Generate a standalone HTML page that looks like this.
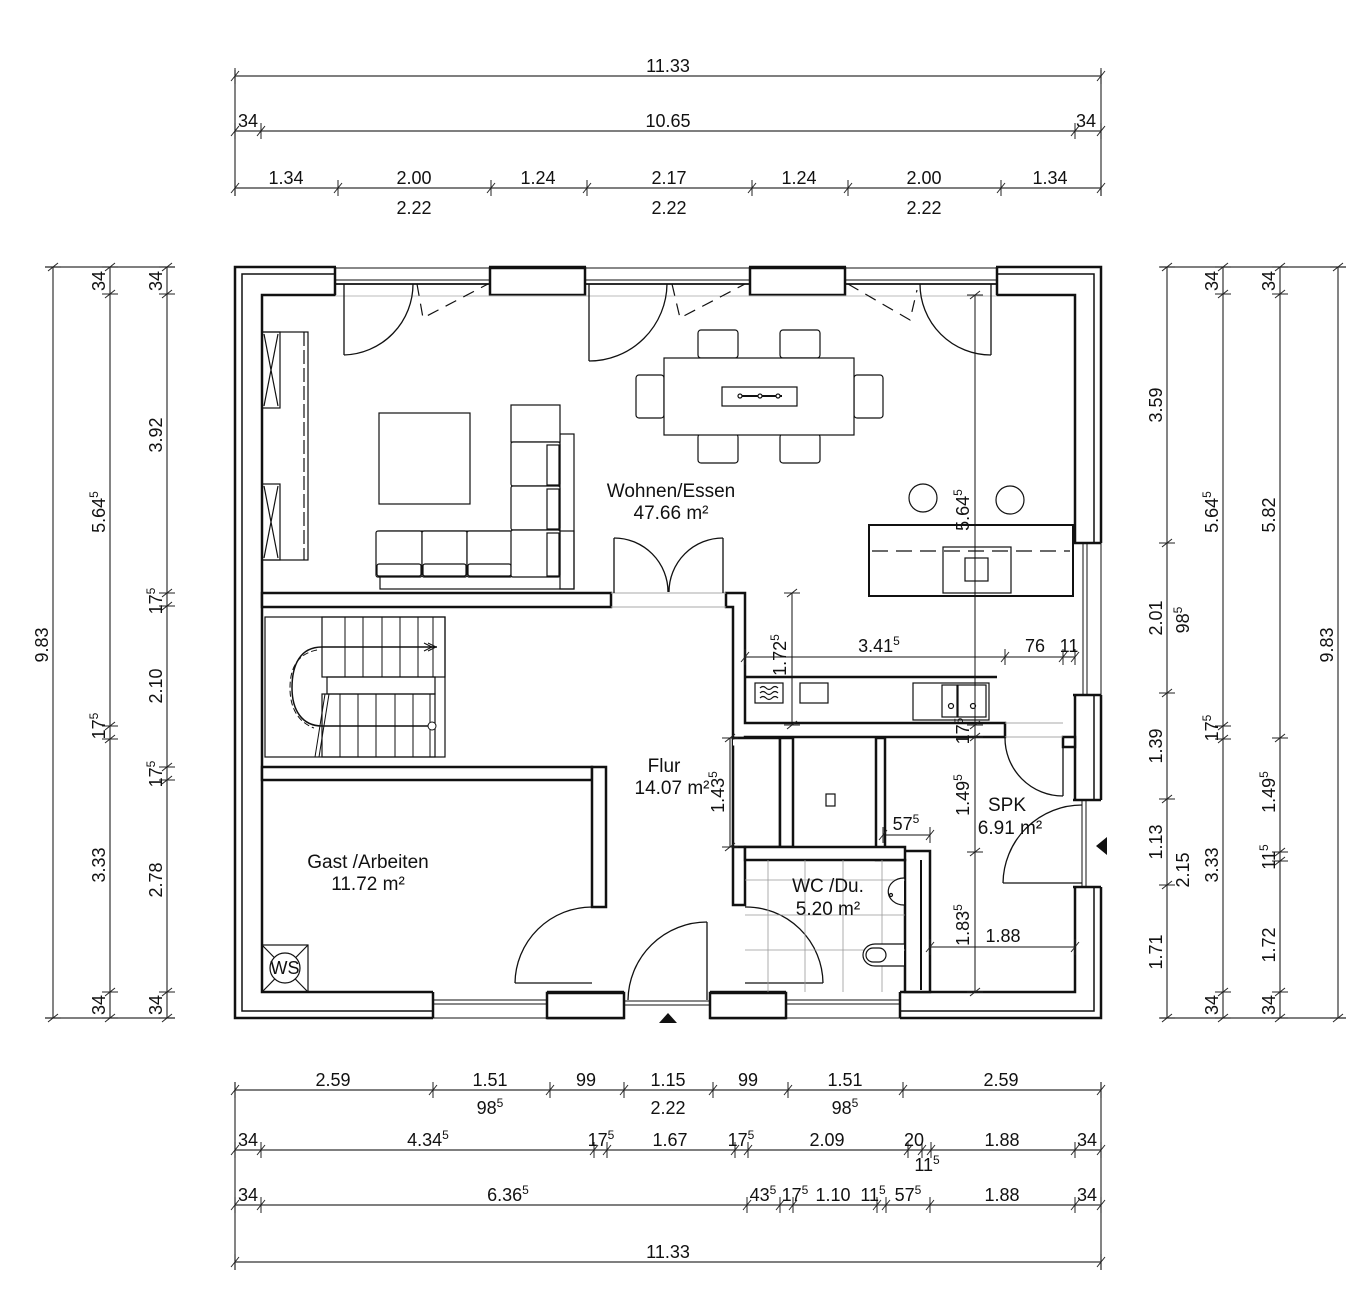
<!DOCTYPE html>
<html><head><meta charset="utf-8"><style>
html,body{margin:0;padding:0;background:#fff}
svg{display:block}
text{font-family:"Liberation Sans",sans-serif;font-size:18px;fill:#111}
.s{font-size:12px}
.r{font-size:19px}
</style></head><body>
<svg width="1356" height="1308" viewBox="0 0 1356 1308" xmlns="http://www.w3.org/2000/svg">
<defs>
<g id="th" stroke="#222" stroke-width="1"><line x1="-4" y1="5" x2="4" y2="-5"/><line x1="0" y1="-8" x2="0" y2="8"/></g>
<g id="tv" stroke="#222" stroke-width="1"><line x1="-5" y1="4" x2="5" y2="-4"/><line x1="-8" y1="0" x2="8" y2="0"/></g>
</defs>
<rect width="1356" height="1308" fill="#fff"/>

<!-- TOP DIMENSIONS -->
<g stroke="#333" stroke-width="1.2" fill="none">
<line x1="235" y1="76" x2="1101" y2="76"/>
<line x1="235" y1="131" x2="1101" y2="131"/>
<line x1="235" y1="188" x2="1101" y2="188"/>
<line x1="235" y1="70" x2="235" y2="196"/>
<line x1="1101" y1="70" x2="1101" y2="196"/>
</g>
<use href="#th" x="235" y="76"/><use href="#th" x="1101" y="76"/>
<use href="#th" x="235" y="131"/><use href="#th" x="261" y="131"/><use href="#th" x="1075" y="131"/><use href="#th" x="1101" y="131"/>
<use href="#th" x="235" y="188"/><use href="#th" x="338" y="188"/><use href="#th" x="491" y="188"/><use href="#th" x="587" y="188"/><use href="#th" x="752" y="188"/><use href="#th" x="848" y="188"/><use href="#th" x="1001" y="188"/><use href="#th" x="1101" y="188"/>
<g text-anchor="middle">
<text x="668" y="72">11.33</text>
<text x="248" y="127">34</text><text x="668" y="127">10.65</text><text x="1086" y="127">34</text>
<text x="286" y="184">1.34</text><text x="414" y="184">2.00</text><text x="538" y="184">1.24</text><text x="669" y="184">2.17</text><text x="799" y="184">1.24</text><text x="924" y="184">2.00</text><text x="1050" y="184">1.34</text>
<text x="414" y="214">2.22</text><text x="669" y="214">2.22</text><text x="924" y="214">2.22</text>
</g>

<!-- LEFT DIMENSIONS -->
<g stroke="#333" stroke-width="1.2">
<line x1="53" y1="267" x2="53" y2="1018"/><line x1="110" y1="267" x2="110" y2="1018"/><line x1="167" y1="267" x2="167" y2="1018"/>
<line x1="45" y1="267" x2="175" y2="267"/><line x1="45" y1="1018" x2="175" y2="1018"/>
</g>
<use href="#tv" x="53" y="267"/><use href="#tv" x="53" y="1018"/>
<use href="#tv" x="110" y="267"/><use href="#tv" x="110" y="294"/><use href="#tv" x="110" y="726"/><use href="#tv" x="110" y="739"/><use href="#tv" x="110" y="992"/><use href="#tv" x="110" y="1018"/>
<use href="#tv" x="167" y="267"/><use href="#tv" x="167" y="294"/><use href="#tv" x="167" y="593"/><use href="#tv" x="167" y="606"/><use href="#tv" x="167" y="767"/><use href="#tv" x="167" y="780"/><use href="#tv" x="167" y="992"/><use href="#tv" x="167" y="1018"/>
<g text-anchor="middle">
<text transform="translate(48,645) rotate(-90)">9.83</text>
<text transform="translate(105,281) rotate(-90)">34</text>
<text transform="translate(105,512) rotate(-90)">5.64<tspan class="s" dy="-7">5</tspan></text>
<text transform="translate(105,726) rotate(-90)">17<tspan class="s" dy="-7">5</tspan></text>
<text transform="translate(105,865) rotate(-90)">3.33</text>
<text transform="translate(105,1005) rotate(-90)">34</text>
<text transform="translate(162,281) rotate(-90)">34</text>
<text transform="translate(162,435) rotate(-90)">3.92</text>
<text transform="translate(162,601) rotate(-90)">17<tspan class="s" dy="-7">5</tspan></text>
<text transform="translate(162,686) rotate(-90)">2.10</text>
<text transform="translate(162,774) rotate(-90)">17<tspan class="s" dy="-7">5</tspan></text>
<text transform="translate(162,880) rotate(-90)">2.78</text>
<text transform="translate(162,1005) rotate(-90)">34</text>
</g>

<!-- RIGHT DIMENSIONS -->
<g stroke="#333" stroke-width="1.2">
<line x1="1167" y1="267" x2="1167" y2="1018"/><line x1="1223" y1="267" x2="1223" y2="1018"/><line x1="1280" y1="267" x2="1280" y2="1018"/><line x1="1338" y1="267" x2="1338" y2="1018"/>
<line x1="1160" y1="267" x2="1346" y2="267"/><line x1="1160" y1="1018" x2="1346" y2="1018"/>
</g>
<use href="#tv" x="1167" y="267"/><use href="#tv" x="1167" y="543"/><use href="#tv" x="1167" y="693"/><use href="#tv" x="1167" y="799"/><use href="#tv" x="1167" y="885"/><use href="#tv" x="1167" y="1018"/>
<use href="#tv" x="1223" y="267"/><use href="#tv" x="1223" y="294"/><use href="#tv" x="1223" y="726"/><use href="#tv" x="1223" y="739"/><use href="#tv" x="1223" y="992"/><use href="#tv" x="1223" y="1018"/>
<use href="#tv" x="1280" y="267"/><use href="#tv" x="1280" y="294"/><use href="#tv" x="1280" y="738"/><use href="#tv" x="1280" y="852"/><use href="#tv" x="1280" y="861"/><use href="#tv" x="1280" y="992"/><use href="#tv" x="1280" y="1018"/>
<use href="#tv" x="1338" y="267"/><use href="#tv" x="1338" y="1018"/>
<g text-anchor="middle">
<text transform="translate(1162,405) rotate(-90)">3.59</text>
<text transform="translate(1162,618) rotate(-90)">2.01</text>
<text transform="translate(1162,746) rotate(-90)">1.39</text>
<text transform="translate(1162,842) rotate(-90)">1.13</text>
<text transform="translate(1162,952) rotate(-90)">1.71</text>
<text transform="translate(1189,620) rotate(-90)">98<tspan class="s" dy="-7">5</tspan></text>
<text transform="translate(1189,870) rotate(-90)">2.15</text>
<text transform="translate(1218,281) rotate(-90)">34</text>
<text transform="translate(1218,512) rotate(-90)">5.64<tspan class="s" dy="-7">5</tspan></text>
<text transform="translate(1218,728) rotate(-90)">17<tspan class="s" dy="-7">5</tspan></text>
<text transform="translate(1218,865) rotate(-90)">3.33</text>
<text transform="translate(1218,1005) rotate(-90)">34</text>
<text transform="translate(1275,281) rotate(-90)">34</text>
<text transform="translate(1275,515) rotate(-90)">5.82</text>
<text transform="translate(1275,792) rotate(-90)">1.49<tspan class="s" dy="-7">5</tspan></text>
<text transform="translate(1275,857) rotate(-90)">11<tspan class="s" dy="-7">5</tspan></text>
<text transform="translate(1275,945) rotate(-90)">1.72</text>
<text transform="translate(1275,1005) rotate(-90)">34</text>
<text transform="translate(1333,645) rotate(-90)">9.83</text>
</g>

<!-- BOTTOM DIMENSIONS -->
<g stroke="#333" stroke-width="1.2">
<line x1="235" y1="1090" x2="1101" y2="1090"/><line x1="235" y1="1150" x2="1101" y2="1150"/><line x1="235" y1="1205" x2="1101" y2="1205"/><line x1="235" y1="1262" x2="1101" y2="1262"/>
<line x1="235" y1="1082" x2="235" y2="1270"/><line x1="1101" y1="1082" x2="1101" y2="1270"/>
</g>
<use href="#th" x="235" y="1090"/><use href="#th" x="433" y="1090"/><use href="#th" x="550" y="1090"/><use href="#th" x="624" y="1090"/><use href="#th" x="713" y="1090"/><use href="#th" x="788" y="1090"/><use href="#th" x="903" y="1090"/><use href="#th" x="1101" y="1090"/>
<use href="#th" x="235" y="1150"/><use href="#th" x="261" y="1150"/><use href="#th" x="594" y="1150"/><use href="#th" x="607" y="1150"/><use href="#th" x="735" y="1150"/><use href="#th" x="748" y="1150"/><use href="#th" x="908" y="1150"/><use href="#th" x="922" y="1150"/><use href="#th" x="931" y="1150"/><use href="#th" x="1075" y="1150"/><use href="#th" x="1101" y="1150"/>
<use href="#th" x="235" y="1205"/><use href="#th" x="261" y="1205"/><use href="#th" x="747" y="1205"/><use href="#th" x="780" y="1205"/><use href="#th" x="793" y="1205"/><use href="#th" x="877" y="1205"/><use href="#th" x="886" y="1205"/><use href="#th" x="930" y="1205"/><use href="#th" x="1075" y="1205"/><use href="#th" x="1101" y="1205"/>
<use href="#th" x="235" y="1262"/><use href="#th" x="1101" y="1262"/>
<g text-anchor="middle">
<text x="333" y="1086">2.59</text><text x="490" y="1086">1.51</text><text x="586" y="1086">99</text><text x="668" y="1086">1.15</text><text x="748" y="1086">99</text><text x="845" y="1086">1.51</text><text x="1001" y="1086">2.59</text>
<text x="490" y="1114">98<tspan class="s" dy="-7">5</tspan></text><text x="668" y="1114">2.22</text><text x="845" y="1114">98<tspan class="s" dy="-7">5</tspan></text>
<text x="248" y="1146">34</text><text x="428" y="1146">4.34<tspan class="s" dy="-7">5</tspan></text><text x="601" y="1146">17<tspan class="s" dy="-7">5</tspan></text><text x="670" y="1146">1.67</text><text x="741" y="1146">17<tspan class="s" dy="-7">5</tspan></text><text x="827" y="1146">2.09</text><text x="914" y="1146">20</text><text x="1002" y="1146">1.88</text><text x="1087" y="1146">34</text>
<text x="927" y="1171">11<tspan class="s" dy="-7">5</tspan></text>
<text x="248" y="1201">34</text><text x="508" y="1201">6.36<tspan class="s" dy="-7">5</tspan></text><text x="763" y="1201">43<tspan class="s" dy="-7">5</tspan></text><text x="795" y="1201">17<tspan class="s" dy="-7">5</tspan></text><text x="833" y="1201">1.10</text><text x="873" y="1201">11<tspan class="s" dy="-7">5</tspan></text><text x="908" y="1201">57<tspan class="s" dy="-7">5</tspan></text><text x="1002" y="1201">1.88</text><text x="1087" y="1201">34</text>
<text x="668" y="1258">11.33</text>
</g>

<!-- EXTERIOR WALLS -->
<g fill="none" stroke="#111">
<rect x="235" y="267" width="866" height="751" stroke-width="2.5"/>
<rect x="242" y="274" width="852" height="737" stroke-width="1.5"/>
<rect x="262" y="295" width="813" height="697" stroke-width="2.5"/>
</g>
<g>
<rect x="336" y="265" width="153" height="32" fill="#fff"/>
<rect x="586" y="265" width="163" height="32" fill="#fff"/>
<rect x="846" y="265" width="150" height="32" fill="#fff"/>
<rect x="490" y="268" width="95" height="27" fill="#fff" stroke="#111" stroke-width="2.5"/>
<rect x="750" y="268" width="95" height="27" fill="#fff" stroke="#111" stroke-width="2.5"/>
<g stroke="#111" stroke-width="1">
<line x1="335" y1="268" x2="490" y2="268"/><line x1="335" y1="280" x2="490" y2="280"/><line x1="335" y1="284" x2="490" y2="284" stroke-width="1.8"/>
<line x1="585" y1="268" x2="750" y2="268"/><line x1="585" y1="280" x2="750" y2="280"/><line x1="585" y1="284" x2="750" y2="284" stroke-width="1.8"/>
<line x1="845" y1="268" x2="997" y2="268"/><line x1="845" y1="280" x2="997" y2="280"/><line x1="845" y1="284" x2="997" y2="284" stroke-width="1.8"/>
</g>
<g stroke="#bbb" stroke-width="1"><line x1="335" y1="296" x2="997" y2="296"/></g>
<line x1="335" y1="267" x2="335" y2="295" stroke="#111" stroke-width="2.5"/>
<line x1="997" y1="267" x2="997" y2="295" stroke="#111" stroke-width="2.5"/>
</g>
<rect x="1073" y="543" width="30" height="152" fill="#fff"/>
<g stroke="#111" stroke-width="1"><line x1="1101" y1="543" x2="1101" y2="695"/><line x1="1083" y1="543" x2="1083" y2="695"/><line x1="1087" y1="543" x2="1087" y2="695"/></g>
<line x1="1073" y1="543" x2="1101" y2="543" stroke="#111" stroke-width="2.5"/>
<line x1="1073" y1="695" x2="1101" y2="695" stroke="#111" stroke-width="2.5"/>
<rect x="1073" y="800" width="30" height="87" fill="#fff"/>
<g stroke="#111" stroke-width="1"><line x1="1082" y1="800" x2="1082" y2="887"/><line x1="1086" y1="800" x2="1086" y2="887"/></g>
<line x1="1073" y1="800" x2="1101" y2="800" stroke="#111" stroke-width="2.5"/>
<line x1="1073" y1="887" x2="1101" y2="887" stroke="#111" stroke-width="2.5"/>
<rect x="433" y="990" width="114" height="30" fill="#fff"/>
<rect x="624" y="990" width="86" height="30" fill="#fff"/>
<rect x="786" y="990" width="114" height="30" fill="#fff"/>
<g stroke="#111" stroke-width="1">
<line x1="433" y1="1000" x2="547" y2="1000"/><line x1="433" y1="1004" x2="547" y2="1004"/><line x1="433" y1="1018" x2="547" y2="1018"/>
<line x1="786" y1="1000" x2="900" y2="1000"/><line x1="786" y1="1004" x2="900" y2="1004"/><line x1="786" y1="1018" x2="900" y2="1018"/>
<line x1="624" y1="1001" x2="710" y2="1001"/><line x1="624" y1="1005" x2="710" y2="1005"/>
</g>
<g fill="#fff" stroke="#111" stroke-width="2.5">
<rect x="547" y="993" width="77" height="25"/>
<rect x="710" y="993" width="76" height="25"/>
<line x1="433" y1="992" x2="433" y2="1018"/><line x1="900" y1="992" x2="900" y2="1018"/>
</g>

<!-- INTERIOR WALLS -->
<g fill="#fff" stroke="#111" stroke-width="2.5" stroke-linejoin="miter">
<rect x="262" y="593" width="349" height="14"/>
<polygon points="726,593 745,593 745,723 1005,723 1005,737 745,737 745,738 733,738 733,607 726,607"/>
<rect x="262" y="767" width="330" height="13"/>
<polygon points="592,767 606,767 606,907 592,907"/>
<rect x="733" y="738" width="47" height="109"/>
<rect x="733" y="847" width="12" height="58"/>
<rect x="780" y="738" width="13" height="109"/>
<polygon points="876,738 885,738 885,851 930,851 930,992 905,992 905,860 876,860"/>
<rect x="745" y="847" width="160" height="13"/>
<rect x="1063" y="737" width="12" height="10"/>
</g>
<g fill="#fff">
<rect x="263.5" y="594.5" width="8" height="11"/>
<rect x="263.5" y="768.5" width="8" height="10"/>
<rect x="733" y="739.5" width="11" height="6"/>
</g>
<g stroke="#aaa" stroke-width="1"><line x1="611" y1="593" x2="726" y2="593"/><line x1="611" y1="607" x2="726" y2="607"/>
<line x1="1005" y1="723" x2="1063" y2="723"/><line x1="1005" y1="737" x2="1063" y2="737"/></g>

<!-- DOORS -->
<g fill="none" stroke="#111" stroke-width="1.3">
<line x1="344" y1="284" x2="344" y2="355"/><path d="M344,355 A71,71 0 0 0 413,284"/>
<line x1="589" y1="284" x2="589" y2="361"/><path d="M589,361 A78,78 0 0 0 667,284"/>
<line x1="991" y1="284" x2="991" y2="355"/><path d="M991,355 A71,71 0 0 1 920,284"/>
<line x1="614" y1="538" x2="614" y2="593"/><path d="M614,538 A54,54 0 0 1 668,592"/>
<line x1="723" y1="538" x2="723" y2="593"/><path d="M723,538 A54,54 0 0 0 669,592"/>
<line x1="515" y1="983" x2="592" y2="983"/><path d="M515,983 A77,77 0 0 1 592,907"/>
<line x1="707" y1="922" x2="707" y2="1000"/><path d="M628,1000 A79,79 0 0 1 707,922"/>
<line x1="745" y1="983" x2="823" y2="983"/><path d="M745,907 A77,77 0 0 1 823,983"/>
<line x1="1063" y1="737" x2="1063" y2="796"/><path d="M1005,737 A58,58 0 0 0 1063,796"/>
<line x1="1003" y1="883" x2="1082" y2="883"/><path d="M1003,883 A79,79 0 0 1 1082,805"/>
</g>
<g fill="none" stroke="#111" stroke-width="1.2" stroke-dasharray="12,8">
<polyline points="417,284 423,318 488,284"/>
<polyline points="672,284 680,318 745,284"/>
<polyline points="848,284 910,320 917,290"/>
</g>
<polygon points="659,1023 677,1023 668,1013" fill="#111"/>
<polygon points="1096,846 1107,837 1107,855" fill="#111"/>

<!-- FURNITURE -->
<g fill="none" stroke="#111" stroke-width="1.2">
<rect x="262" y="332" width="46" height="228"/>
<rect x="262" y="332" width="18" height="76"/><path d="M264,334 L278,406 M278,334 L264,406"/>
<rect x="262" y="484" width="18" height="76"/><path d="M264,486 L278,558 M278,486 L264,558"/>
<line x1="304" y1="332" x2="304" y2="560" stroke-dasharray="14,4"/>
<rect x="379" y="413" width="91" height="91"/>
<rect x="380" y="531" width="194" height="58"/>
<rect x="376" y="531" width="46" height="46" rx="2" fill="#fff"/><rect x="422" y="531" width="45" height="46" rx="2" fill="#fff"/><rect x="467" y="531" width="45" height="46" rx="2" fill="#fff"/>
<rect x="377" y="564" width="44" height="12" rx="2"/><rect x="423" y="564" width="43" height="12" rx="2"/><rect x="468" y="564" width="43" height="12" rx="2"/>
<rect x="560" y="434" width="14" height="155"/>
<rect x="511" y="405" width="49" height="37" fill="#fff"/>
<rect x="511" y="442" width="49" height="44" rx="2" fill="#fff"/><rect x="511" y="486" width="49" height="44" rx="2" fill="#fff"/><rect x="511" y="530" width="49" height="47" rx="2" fill="#fff"/>
<rect x="547" y="445" width="12" height="40"/><rect x="547" y="489" width="12" height="40"/><rect x="547" y="533" width="12" height="43"/>
<rect x="698" y="330" width="40" height="28" rx="3"/><rect x="780" y="330" width="40" height="28" rx="3"/>
<rect x="698" y="434" width="40" height="29" rx="3"/><rect x="780" y="434" width="40" height="29" rx="3"/>
<rect x="636" y="375" width="28" height="43" rx="3"/><rect x="854" y="375" width="29" height="43" rx="3"/>
<rect x="664" y="358" width="190" height="77" fill="#fff"/>
<rect x="722" y="387" width="75" height="19"/>
<line x1="738" y1="396" x2="782" y2="396" stroke-width="2"/>
<circle cx="740" cy="396" r="2" fill="#fff"/><circle cx="760" cy="396" r="2" fill="#fff"/><circle cx="778" cy="396" r="2" fill="#fff"/>
<circle cx="923" cy="498" r="14"/><circle cx="1010" cy="500" r="14"/>
<rect x="869" y="525" width="204" height="71" stroke-width="2"/>
<line x1="872" y1="551" x2="1070" y2="551" stroke-dasharray="16,8"/>
<rect x="943" y="547" width="68" height="46"/><rect x="965" y="558" width="23" height="23"/>
<line x1="745" y1="677" x2="997" y2="677" stroke-width="2.5"/>
<line x1="745" y1="723" x2="1003" y2="723"/>
<rect x="755" y="683" width="28" height="20"/>
<path d="M760,688 q3,-3 6,0 t6,0 t6,0 M760,693 q3,-3 6,0 t6,0 t6,0 M760,698 q3,-3 6,0 t6,0 t6,0"/>
<rect x="800" y="683" width="28" height="20"/>
<rect x="913" y="683" width="76" height="37"/><rect x="942" y="685" width="15" height="32"/><rect x="958" y="685" width="28" height="32"/>
<circle cx="951" cy="706" r="2.5"/><circle cx="973" cy="706" r="2.5"/>
<line x1="975" y1="295" x2="975" y2="992" stroke-width="1"/>
<line x1="745" y1="657" x2="1075" y2="657" stroke-width="1"/>
<line x1="792" y1="593" x2="792" y2="725" stroke-width="1"/>
<line x1="730" y1="738" x2="730" y2="847" stroke-width="1"/>
<line x1="883" y1="835" x2="930" y2="835" stroke-width="1"/>
<line x1="930" y1="947" x2="1075" y2="947" stroke-width="1"/>
<rect x="826" y="794" width="9" height="12"/>
<g stroke="#999" stroke-width="0.8">
<line x1="745" y1="880" x2="905" y2="880"/><line x1="745" y1="915" x2="905" y2="915"/><line x1="745" y1="950" x2="905" y2="950"/>
<line x1="768" y1="860" x2="768" y2="992"/><line x1="805" y1="860" x2="805" y2="992"/><line x1="843" y1="860" x2="843" y2="992"/><line x1="882" y1="860" x2="882" y2="992"/>
</g>
<path d="M904,878 A14,12 0 0 0 904,905" fill="#fff"/><circle cx="891" cy="895" r="1.5"/>
<path d="M904,944 L875,944 A12,11 0 0 0 875,966 L904,966" fill="#fff"/><rect x="866" y="948" width="20" height="14" rx="7"/>
<line x1="921" y1="860" x2="921" y2="990" stroke-width="2"/>
<rect x="262" y="945" width="46" height="47"/><path d="M262,945 L308,992 M308,945 L262,992"/>
<circle cx="285" cy="968" r="15" fill="#fff"/>
<rect x="265" y="617" width="180" height="140"/>
<rect x="322" y="617" width="123" height="60"/>
<rect x="327" y="677" width="108" height="17"/>
<rect x="322" y="694" width="113" height="63"/>
</g>
<g stroke="#111" stroke-width="1">
<line x1="345" y1="617" x2="345" y2="677"/><line x1="363" y1="617" x2="363" y2="677"/><line x1="382" y1="617" x2="382" y2="677"/><line x1="400" y1="617" x2="400" y2="677"/><line x1="418" y1="617" x2="418" y2="677"/><line x1="433" y1="617" x2="433" y2="677"/>
<line x1="340" y1="694" x2="340" y2="757"/><line x1="358" y1="694" x2="358" y2="757"/><line x1="376" y1="694" x2="376" y2="757"/><line x1="395" y1="694" x2="395" y2="757"/><line x1="413" y1="694" x2="413" y2="757"/><line x1="430" y1="694" x2="430" y2="757"/>
<line x1="322" y1="647" x2="437" y2="647" stroke-width="1.5"/><line x1="322" y1="726" x2="432" y2="726" stroke-width="1.5"/>
<path d="M322,647 C300,647 292,665 292,688 C292,710 302,726 322,726" fill="none" stroke-width="1.5"/>
<path d="M317,650 C296,654 290,670 290,688 C290,708 298,722 314,728" fill="none" stroke-dasharray="6,3"/>
<line x1="325" y1="694" x2="315" y2="757"/><line x1="329" y1="694" x2="319" y2="757"/>
<path d="M428,643 l8,4 l-8,4 M424,643 l8,4 l-8,4" fill="none"/>
<circle cx="432" cy="726" r="4" fill="#fff"/>
</g>
<use href="#tv" x="975" y="295"/><use href="#tv" x="975" y="725"/><use href="#tv" x="975" y="737"/><use href="#tv" x="975" y="852"/><use href="#tv" x="975" y="992"/>
<use href="#th" x="745" y="657"/><use href="#th" x="1005" y="657"/><use href="#th" x="1063" y="657"/><use href="#th" x="1075" y="657"/>
<use href="#tv" x="792" y="593"/><use href="#tv" x="792" y="725"/>
<use href="#tv" x="730" y="738"/><use href="#tv" x="730" y="847"/>
<use href="#th" x="883" y="835"/><use href="#th" x="930" y="835"/>
<use href="#th" x="930" y="947"/><use href="#th" x="1075" y="947"/>

<!-- LABELS -->
<g text-anchor="middle">
<text class="r" x="671" y="497">Wohnen/Essen</text><text class="r" x="671" y="519">47.66 m²</text>
<text class="r" x="664" y="772">Flur</text><text class="r" x="672" y="794">14.07 m²</text>
<text class="r" x="368" y="868">Gast /Arbeiten</text><text class="r" x="368" y="890">11.72 m²</text>
<text class="r" x="828" y="892">WC /Du.</text><text class="r" x="828" y="915">5.20 m²</text>
<text class="r" x="1007" y="811">SPK</text><text class="r" x="1010" y="834">6.91 m²</text>
<text x="285" y="974" font-size="15">WS</text>
<text x="879" y="652">3.41<tspan class="s" dy="-7">5</tspan></text>
<text x="1035" y="652">76</text><text x="1069" y="652">11</text>
<text x="906" y="830">57<tspan class="s" dy="-7">5</tspan></text>
<text x="1003" y="942">1.88</text>
<text transform="translate(969,510) rotate(-90)">5.64<tspan class="s" dy="-7">5</tspan></text>
<text transform="translate(969,731) rotate(-90)" font-size="15">17<tspan class="s" dy="-6">5</tspan></text>
<text transform="translate(969,795) rotate(-90)">1.49<tspan class="s" dy="-7">5</tspan></text>
<text transform="translate(969,925) rotate(-90)">1.83<tspan class="s" dy="-7">5</tspan></text>
<text transform="translate(786,655) rotate(-90)">1.72<tspan class="s" dy="-7">5</tspan></text>
<text transform="translate(724,792) rotate(-90)">1.43<tspan class="s" dy="-7">5</tspan></text>
</g>
</svg>
</body></html>
